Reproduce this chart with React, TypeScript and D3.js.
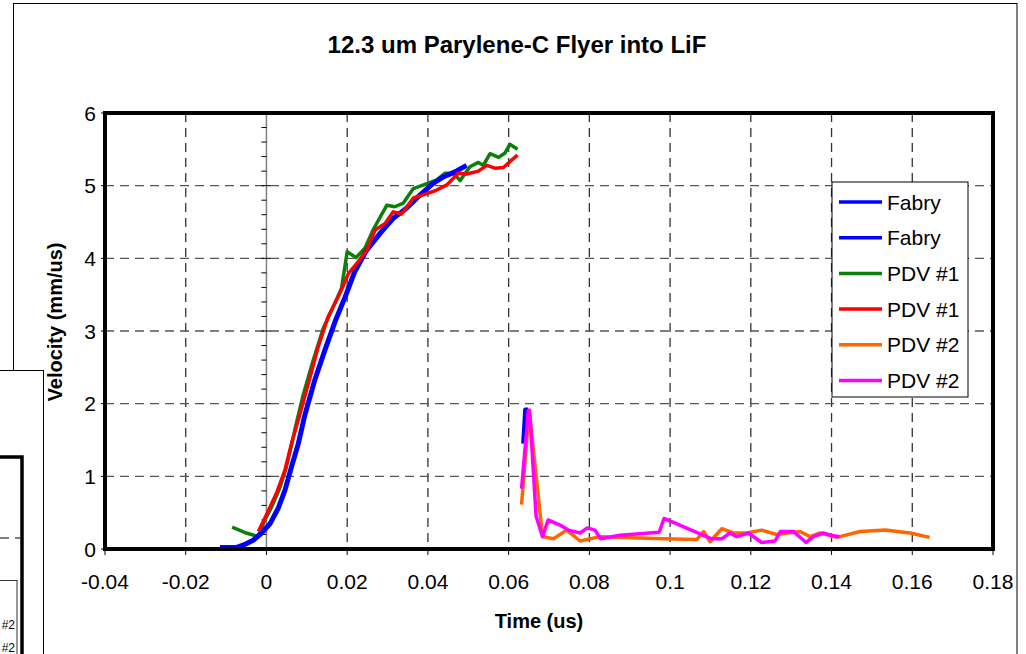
import React, { useEffect, useRef } from 'react';
import * as d3 from 'd3';

// values (time in us, velocity in mm/us)
const fabryT = [-0.0115, -0.0075, -0.0055, -0.0033, -0.0012, 0.0009, 0.0029, 0.0046, 0.0062, 0.0079, 0.0095, 0.012, 0.0145, 0.017, 0.0195, 0.0219, 0.0248, 0.0281, 0.0314, 0.0347, 0.038, 0.0413, 0.0438, 0.0467, 0.0496];
const fabryV = [0.02, 0.02, 0.06, 0.12, 0.22, 0.35, 0.56, 0.81, 1.13, 1.45, 1.84, 2.33, 2.74, 3.13, 3.47, 3.82, 4.11, 4.34, 4.55, 4.69, 4.87, 5.03, 5.12, 5.19, 5.28];
const fabry2T = [0.0636, 0.0641, 0.0648];
const fabry2V = [1.45, 1.92, 1.92];
const pdv1GreenT = [-0.0085, -0.005, -0.002, -0.0004, 0.0013, 0.0033, 0.0048, 0.006, 0.0072, 0.0091, 0.0116, 0.0141, 0.0162, 0.0186, 0.02, 0.0222, 0.0244, 0.0265, 0.0298, 0.0318, 0.0339, 0.0364, 0.0389, 0.0422, 0.0442, 0.0463, 0.048, 0.0504, 0.0525, 0.0537, 0.0554, 0.0575, 0.0591, 0.0603, 0.0622];
const pdv1GreenV = [0.3, 0.22, 0.17, 0.4, 0.58, 0.84, 1.1, 1.38, 1.68, 2.12, 2.6, 3.04, 3.29, 3.59, 4.09, 4.01, 4.14, 4.4, 4.73, 4.71, 4.76, 4.96, 5.01, 5.08, 5.17, 5.17, 5.07, 5.26, 5.32, 5.28, 5.44, 5.39, 5.45, 5.57, 5.5];
const pdv1RedT = [-0.002, 0.0, 0.0025, 0.0046, 0.0062, 0.0081, 0.0104, 0.0128, 0.0153, 0.0182, 0.0203, 0.0224, 0.0248, 0.0269, 0.0294, 0.0314, 0.0335, 0.0364, 0.0397, 0.0418, 0.0447, 0.0475, 0.0496, 0.0525, 0.0546, 0.0566, 0.0587, 0.0603, 0.0622];
const pdv1RedV = [0.24, 0.47, 0.77, 1.09, 1.45, 1.82, 2.28, 2.78, 3.2, 3.52, 3.79, 3.93, 4.11, 4.39, 4.48, 4.64, 4.61, 4.83, 4.89, 4.93, 5.01, 5.17, 5.16, 5.2, 5.28, 5.24, 5.25, 5.33, 5.42];
const pdv2OrangeT = [0.0632, 0.0651, 0.0684, 0.0711, 0.0744, 0.0777, 0.0827, 0.0983, 0.1066, 0.1083, 0.1099, 0.1128, 0.1157, 0.119, 0.1227, 0.1264, 0.1322, 0.1347, 0.1372, 0.1413, 0.1471, 0.1533, 0.1595, 0.1643];
const pdv2OrangeV = [0.61, 1.91, 0.17, 0.14, 0.26, 0.11, 0.17, 0.14, 0.13, 0.24, 0.1, 0.28, 0.22, 0.22, 0.26, 0.2, 0.24, 0.17, 0.22, 0.16, 0.24, 0.26, 0.22, 0.16];
const pdv2MagentaT = [0.0632, 0.0649, 0.0652, 0.0668, 0.0684, 0.0698, 0.0727, 0.0748, 0.0777, 0.0795, 0.0814, 0.0828, 0.0876, 0.0973, 0.0985, 0.1103, 0.1128, 0.1148, 0.1165, 0.1194, 0.1227, 0.126, 0.1273, 0.1306, 0.1337, 0.1355, 0.138, 0.1397, 0.142];
const pdv2MagentaV = [0.83, 1.91, 1.91, 0.45, 0.17, 0.4, 0.33, 0.26, 0.22, 0.29, 0.26, 0.14, 0.19, 0.23, 0.42, 0.14, 0.14, 0.22, 0.17, 0.22, 0.09, 0.11, 0.24, 0.24, 0.09, 0.17, 0.22, 0.19, 0.17];

const legendNames = ['Fabry', 'Fabry', 'PDV #1', 'PDV #1', 'PDV #2', 'PDV #2'];
const xTicks = [-0.04, -0.02, 0, 0.02, 0.04, 0.06, 0.08, 0.1, 0.12, 0.14, 0.16, 0.18];
const xTickLabels = ['-0.04', '-0.02', '0', '0.02', '0.04', '0.06', '0.08', '0.1', '0.12', '0.14', '0.16', '0.18'];
const yTicks = [0, 1, 2, 3, 4, 5, 6];

const font = 'Arial, "Liberation Sans", sans-serif';

export default function App() {
  const ref = useRef<SVGSVGElement>(null);

  useEffect(() => {
    const svg = d3.select(ref.current);
    svg.selectAll('*').remove();

    const left = 105, right = 993, top = 113, bottom = 549;
    const x = d3.scaleLinear().domain([-0.04, 0.18]).range([left, right]);
    const y = d3.scaleLinear().domain([0, 6]).range([bottom, top]);

    // chart frame
    svg.append('rect').attr('x', 0).attr('y', 0).attr('width', 1026).attr('height', 654).attr('fill', '#fff');
    svg.append('rect').attr('x', 13.5).attr('y', 3.5).attr('width', 1003.5).attr('height', 720)
      .attr('fill', '#fff').attr('stroke', '#000').attr('stroke-width', 1);

    svg.append('text').attr('x', 517).attr('y', 53).attr('text-anchor', 'middle')
      .attr('font-family', font).attr('font-weight', 'bold').attr('font-size', 24)
      .text('12.3 um Parylene-C Flyer into LiF');

    // gridlines
    const g = svg.append('g');
    xTicks.filter(t => t > -0.04 && t < 0.18 && t !== 0).forEach(t => {
      g.append('line').attr('x1', x(t)).attr('x2', x(t)).attr('y1', top).attr('y2', bottom)
        .attr('stroke', '#333').attr('stroke-width', 1.3).attr('stroke-dasharray', '9,6');
    });
    yTicks.filter(v => v > 0 && v < 6).forEach(v => {
      g.append('line').attr('x1', left).attr('x2', right).attr('y1', y(v)).attr('y2', y(v))
        .attr('stroke', '#555').attr('stroke-width', 1.3).attr('stroke-dasharray', '9,6');
    });

    // value axis at x = 0
    g.append('line').attr('x1', x(0)).attr('x2', x(0)).attr('y1', top).attr('y2', bottom)
      .attr('stroke', '#808080').attr('stroke-width', 1.5);
    d3.range(0, 30).forEach(i => {
      const v = i * 0.2;
      const major = i % 5 === 0;
      g.append('line').attr('x1', x(0) - 5).attr('x2', x(0) + (major ? 4 : 0))
        .attr('y1', y(v)).attr('y2', y(v)).attr('stroke', '#000').attr('stroke-width', 1);
    });

    // ticks on frame
    xTicks.forEach(t => {
      g.append('line').attr('x1', x(t)).attr('x2', x(t)).attr('y1', bottom).attr('y2', bottom + 6)
        .attr('stroke', '#000').attr('stroke-width', 1);
    });
    yTicks.forEach(v => {
      g.append('line').attr('x1', left - 4).attr('x2', left).attr('y1', y(v)).attr('y2', y(v))
        .attr('stroke', '#000').attr('stroke-width', 1);
    });

    // tick labels
    xTicks.forEach((t, i) => {
      svg.append('text').attr('x', x(t)).attr('y', 589).attr('text-anchor', 'middle')
        .attr('font-family', font).attr('font-size', 21).text(xTickLabels[i]);
    });
    yTicks.forEach(v => {
      svg.append('text').attr('x', 96).attr('y', y(v) + 7.5).attr('text-anchor', 'end')
        .attr('font-family', font).attr('font-size', 21).text(String(v));
    });

    // axis titles
    svg.append('text').attr('x', 539).attr('y', 628).attr('text-anchor', 'middle')
      .attr('font-family', font).attr('font-weight', 'bold').attr('font-size', 20).text('Time (us)');
    svg.append('text').attr('transform', 'translate(62,322) rotate(-90)').attr('text-anchor', 'middle')
      .attr('font-family', font).attr('font-weight', 'bold').attr('font-size', 20).text('Velocity (mm/us)');

    // series
    const line = d3.line<[number, number]>().x(d => x(d[0])).y(d => y(d[1]));
    const series = [
      { t: fabryT, v: fabryV, color: '#0000ff', w: 5 },
      { t: fabry2T, v: fabry2V, color: '#0000ff', w: 4 },
      { t: pdv1GreenT, v: pdv1GreenV, color: '#0a800a', w: 3.5 },
      { t: pdv1RedT, v: pdv1RedV, color: '#ff0000', w: 3.5 },
      { t: pdv2OrangeT, v: pdv2OrangeV, color: '#ff6600', w: 3.5 },
      { t: pdv2MagentaT, v: pdv2MagentaV, color: '#ff00ff', w: 3.5 },
    ];
    const drawOrder = [2, 0, 3, 1, 4, 5];
    drawOrder.forEach(i => {
      const s = series[i];
      const pts = s.t.map((t, j) => [t, s.v[j]] as [number, number]);
      svg.append('path').attr('d', line(pts)).attr('fill', 'none').attr('stroke', s.color)
        .attr('stroke-width', s.w).attr('stroke-linejoin', 'round');
    });

    // plot border
    svg.append('rect').attr('x', left).attr('y', top).attr('width', right - left).attr('height', bottom - top)
      .attr('fill', 'none').attr('stroke', '#000').attr('stroke-width', 4);

    // legend
    const lg = svg.append('g');
    lg.append('rect').attr('x', 832).attr('y', 182).attr('width', 136).attr('height', 215)
      .attr('fill', '#fff').attr('stroke', '#000').attr('stroke-width', 1);
    legendNames.forEach((name, i) => {
      const ly = 202 + i * 35.7;
      lg.append('line').attr('x1', 839).attr('x2', 882).attr('y1', ly).attr('y2', ly)
        .attr('stroke', series[i].color).attr('stroke-width', 3.5);
      lg.append('text').attr('x', 887).attr('y', ly + 7.5).attr('font-family', font)
        .attr('font-size', 21).text(name);
    });

    // another chart window overlapping the bottom-left corner
    const o = svg.append('g');
    o.append('rect').attr('x', -2).attr('y', 370.5).attr('width', 45.5).attr('height', 300)
      .attr('fill', '#fff').attr('stroke', '#000').attr('stroke-width', 1);
    o.append('line').attr('x1', 0).attr('x2', 20).attr('y1', 538).attr('y2', 538)
      .attr('stroke', '#555').attr('stroke-width', 1.3).attr('stroke-dasharray', '9,6');
    o.append('path').attr('d', 'M0,457 L22,457 L22,660').attr('fill', 'none')
      .attr('stroke', '#000').attr('stroke-width', 3.5);
    o.append('rect').attr('x', -5).attr('y', 580.5).attr('width', 22).attr('height', 100)
      .attr('fill', '#fff').attr('stroke', '#000').attr('stroke-width', 0.8);
    o.append('text').attr('x', 15).attr('y', 629).attr('text-anchor', 'end').attr('font-family', font)
      .attr('font-size', 12).text('#2');
    o.append('text').attr('x', 15).attr('y', 652).attr('text-anchor', 'end').attr('font-family', font)
      .attr('font-size', 12).text('#2');
  }, []);

  return (
    <svg ref={ref} width={1026} height={654}
      style={{ position: 'absolute', left: 0, top: 0, display: 'block' }} />
  );
}
